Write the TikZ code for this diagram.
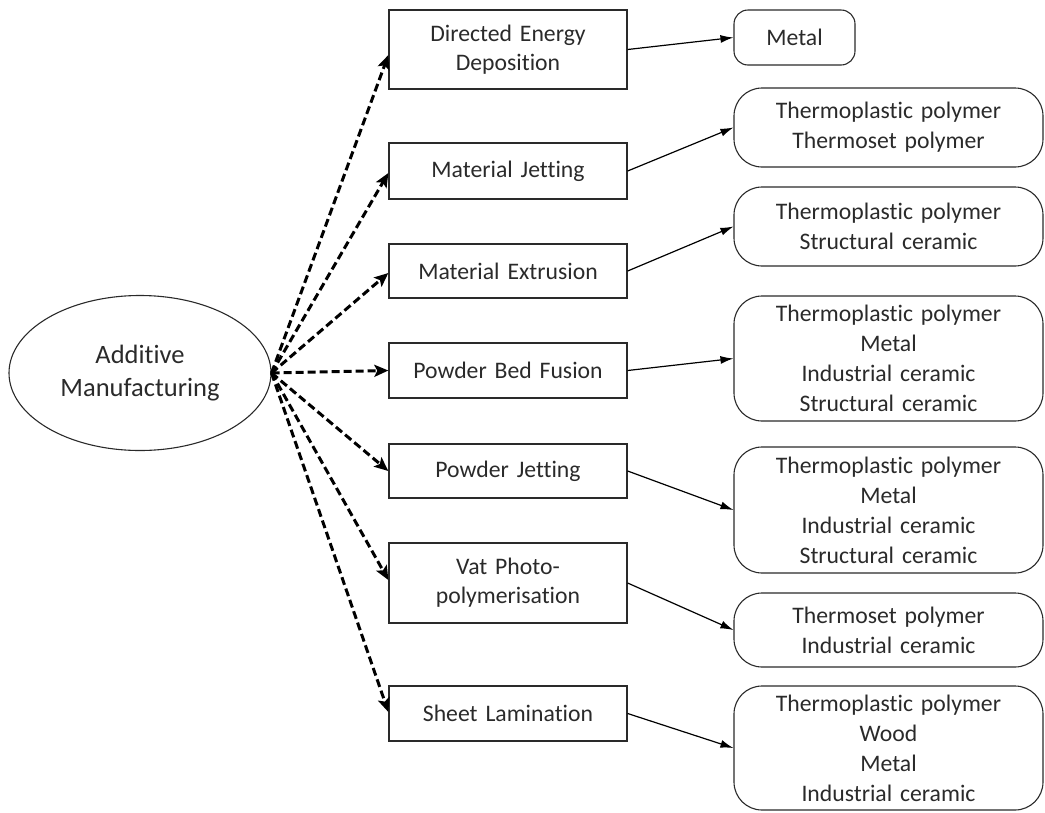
\documentclass[tikz,border=0pt]{standalone}
\usepackage{fontspec}
\setmainfont{Carlito}[RawFeature=-liga, WordSpace=0.85]
\usetikzlibrary{arrows.meta,shapes.geometric}
\definecolor{ink}{HTML}{2A2A2A}
\tikzset{
  method/.style={draw=ink, line width=1.3pt, minimum width=238pt, text width=234pt, align=center, inner sep=0pt, font=\fontsize{23.7}{29}\selectfont, text=ink},
  mat/.style={draw=ink, line width=1.1pt, rounded corners=28pt, minimum width=309pt, text width=305pt, align=center, inner sep=0pt, font=\fontsize{23.7}{30}\selectfont, text=ink},
  dasharrow/.style={line width=3pt, dash pattern=on 8pt off 4pt, -{Stealth[length=14pt,width=12pt,inset=3pt]}},
  solidarrow/.style={line width=1.2pt, -{Latex[length=13pt,width=8pt]}}
}
\begin{document}
\begin{tikzpicture}[x=1pt,y=-1pt]
\useasboundingbox (0,0) rectangle (1045,812);
\node[ellipse, draw=ink, line width=1.1pt, minimum width=262pt, minimum height=155pt, inner sep=0pt, align=center, font=\fontsize{26.5}{33}\selectfont, text=ink] (am) at (140,373) {Additive\\Manufacturing};

\node[method, minimum height=79pt] (ded) at (508,49.5) {Directed Energy\\Deposition};
\node[method, minimum height=56pt] (mj) at (508,171) {Material Jetting};
\node[method, minimum height=54pt] (me) at (508,271) {Material Extrusion};
\node[method, minimum height=55pt] (pbf) at (508,370.5) {Powder Bed Fusion};
\node[method, minimum height=54pt] (pj) at (508,471) {Powder Jetting};
\node[method, minimum height=80pt] (vat) at (508,583) {Vat Photo-\\polymerisation};
\node[method, minimum height=55pt] (sl) at (508,713.5) {Sheet Lamination};

\node[mat, rounded corners=14pt, minimum width=121pt, text width=117pt, minimum height=55pt] (m1) at (794.5,37.5) {Metal};
\node[mat, minimum height=79pt] (m2) at (888.5,127.5) {Thermoplastic polymer\\Thermoset polymer};
\node[mat, minimum height=79pt] (m3) at (888.5,226.5) {Thermoplastic polymer\\Structural ceramic};
\node[mat, minimum height=125pt] (m4) at (888.5,358.5) {Thermoplastic polymer\\Metal\\Industrial ceramic\\Structural ceramic};
\node[mat, minimum height=126pt] (m5) at (888.5,510) {Thermoplastic polymer\\Metal\\Industrial ceramic\\Structural ceramic};
\node[mat, minimum height=74pt] (m6) at (888.5,630) {Thermoset polymer\\Industrial ceramic};
\node[mat, minimum height=124pt] (m7) at (888.5,748) {Thermoplastic polymer\\Wood\\Metal\\Industrial ceramic};

\draw[dasharrow] (am.east) -- ([yshift=-5.5pt]ded.west);
\draw[dasharrow] (am.east) -- ([yshift=-2pt]mj.west);
\draw[dasharrow] (am.east) -- ([yshift=-2pt]me.west);
\draw[dasharrow] (am.east) -- (pbf.west);
\draw[dasharrow] (am.east) -- (pj.west);
\draw[dasharrow] (am.east) -- ([yshift=3pt]vat.west);
\draw[dasharrow] (am.east) -- ([yshift=1.5pt]sl.west);

\draw[solidarrow] (ded.east) -- (m1.west);
\draw[solidarrow] (mj.east) -- (m2.west);
\draw[solidarrow] (me.east) -- (m3.west);
\draw[solidarrow] (pbf.east) -- (m4.west);
\draw[solidarrow] (pj.east) -- (m5.west);
\draw[solidarrow] (vat.east) -- (m6.west);
\draw[solidarrow] (sl.east) -- (m7.west);
\end{tikzpicture}
\end{document}
